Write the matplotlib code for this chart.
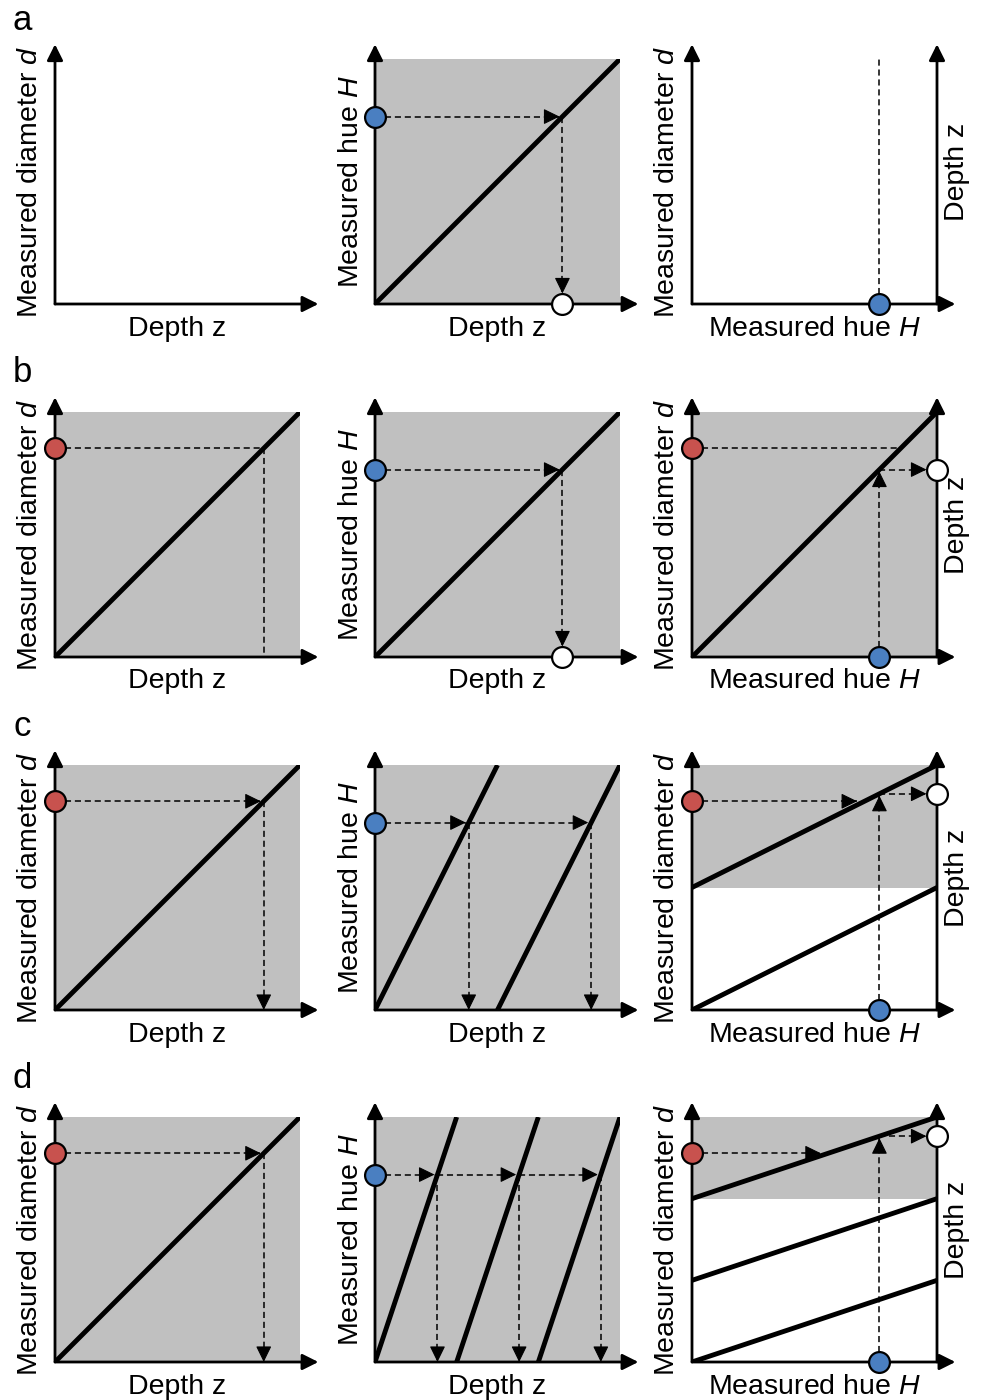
import numpy as np
import matplotlib
matplotlib.use("Agg")
from matplotlib import pyplot as plt

plt.rcParams['font.family'] = ['Liberation Sans', 'DejaVu Sans']
plt.rcParams['mathtext.fontset'] = 'custom'
plt.rcParams['mathtext.rm'] = 'Liberation Sans'
plt.rcParams['mathtext.it'] = 'Liberation Sans:italic'

# schematic values
row_letters = ['a', 'b', 'c', 'd']
hue_value = 0.765        # blue point, measured hue H
diam_value = 0.852       # red point, measured diameter d
hue_branches = [1, 1, 2, 3]        # branches of H(z) per row
diam_branches = [0, 1, 2, 3]       # branches of d(H) per row (0 = none)
col1_line = [False, True, True, True]
col1_heads = [False, False, True, True]
col3_red_head = [False, False, True, True]
col2_circle = [True, True, False, False]

xlabels = ['Depth z', 'Depth z', 'Measured hue $H$']
ylabels = ['Measured diameter $d$', 'Measured hue $H$', 'Measured diameter $d$']

# colours
gray = '#c0c0c0'
blue = '#4a7fc1'
red = '#c8524e'

# layout in pixels
W, H_ = 984, 1400
col_x0 = [55, 375, 692]
row_y0 = [304, 657, 1010, 1362]
box = 245
fs = 20.5

fig = plt.figure(figsize=(W / 100, H_ / 100), dpi=100)

axis_props = dict(arrowstyle='-|>', lw=2, color='k', mutation_scale=24, shrinkA=0, shrinkB=0)


def dashed(ax, p0, p1, head=False):
    ax.plot([p0[0], p1[0]], [p0[1], p1[1]], color='k', lw=1.1, dashes=(4, 2.5), zorder=4,
            clip_on=False)
    if head:
        d = np.array(p1) - np.array(p0)
        d = d / np.hypot(*d)
        tail = np.array(p1) - 0.05 * d
        ax.annotate('', xy=p1, xytext=tuple(tail),
                    arrowprops=dict(arrowstyle='-|>,head_length=0.45,head_width=0.22', lw=0.8,
                                    color='k', mutation_scale=22, shrinkA=0, shrinkB=0),
                    annotation_clip=False, zorder=6)


def dot(ax, x, y, c):
    ax.plot([x], [y], 'o', ms=15, mfc=c, mec='k', mew=1.6, clip_on=False, zorder=10)


r = 0.043  # marker radius in data units

for i, letter in enumerate(row_letters):
    fig.text(22 / W, 1 - (20 + 353 * i) / H_, letter, fontsize=25, ha='center', va='center')
    axes = []
    for j in range(3):
        ax = fig.add_axes([col_x0[j] / W, (H_ - row_y0[i]) / H_, box / W, box / H_])
        ax.set_xlim(0, 1)
        ax.set_ylim(0, 1)
        ax.axis('off')
        # axes with arrows
        ax.annotate('', xy=(1.075, 0), xytext=(0, 0), arrowprops=axis_props,
                    annotation_clip=False, zorder=5)
        ax.annotate('', xy=(0, 1.06), xytext=(0, 0), arrowprops=axis_props,
                    annotation_clip=False, zorder=5)
        ax.text(0.5, -0.1, xlabels[j], fontsize=fs, ha='center', va='center')
        ax.text(-0.1, 0.5, ylabels[j], fontsize=fs, ha='center', va='center', rotation=90)
        axes.append(ax)

    ax1, ax2, ax3 = axes

    # column 1: depth -> diameter
    if col1_line[i]:
        ax1.fill_between([0, 1], 0, 1, color=gray, lw=0, zorder=0)
        ax1.plot([0, 1], [0, 1], color='k', lw=3.5, solid_capstyle='butt', zorder=3)
        heads = col1_heads[i]
        dashed(ax1, (0, diam_value), (diam_value - (0.012 if heads else 0), diam_value), heads)
        dashed(ax1, (diam_value, diam_value), (diam_value, 0), heads)
        dot(ax1, 0, diam_value, red)

    # column 2: depth -> hue
    n = hue_branches[i]
    ax2.fill_between([0, 1], 0, 1, color=gray, lw=0, zorder=0)
    for k in range(n):
        ax2.plot([k / n, (k + 1) / n], [0, 1], color='k', lw=3.5, solid_capstyle='butt', zorder=3)
    zs = [(hue_value + k) / n for k in range(n)]
    prev = 0
    for z in zs:
        dashed(ax2, (prev, hue_value), (z - 0.012, hue_value), True)
        prev = z
        if col2_circle[i]:
            dashed(ax2, (z, hue_value), (z, r), True)
            dot(ax2, z, 0, 'white')
        else:
            dashed(ax2, (z, hue_value), (z, 0), True)
    dot(ax2, 0, hue_value, blue)

    # column 3: hue -> diameter, right axis depth
    ax3.annotate('', xy=(1, 1.06), xytext=(1, 0), arrowprops=axis_props,
                 annotation_clip=False, zorder=5)
    ax3.text(1.08, 0.54, 'Depth z', fontsize=fs, ha='center', va='center', rotation=90)
    m = diam_branches[i]
    if m == 0:
        dashed(ax3, (hue_value, 0), (hue_value, 1))
    else:
        ax3.fill_between([0, 1], (m - 1) / m, 1, color=gray, lw=0, zorder=0)
        for k in range(m):
            ax3.plot([0, 1], [k / m, (k + 1) / m], color='k', lw=3.5, solid_capstyle='butt',
                     zorder=3)
        h_red = (diam_value - (m - 1) / m) * m
        rh = col3_red_head[i]
        dashed(ax3, (0, diam_value), (h_red - (0.03 if rh else 0), diam_value), rh)
        d_top = (m - 1 + hue_value) / m
        dashed(ax3, (hue_value, 0), (hue_value, d_top - 0.008), True)
        dashed(ax3, (hue_value, d_top), (1 - r, d_top), True)
        dot(ax3, 1, d_top, 'white')
        dot(ax3, 0, diam_value, red)
    dot(ax3, hue_value, 0, blue)

fig.savefig('out.png', dpi=100)
